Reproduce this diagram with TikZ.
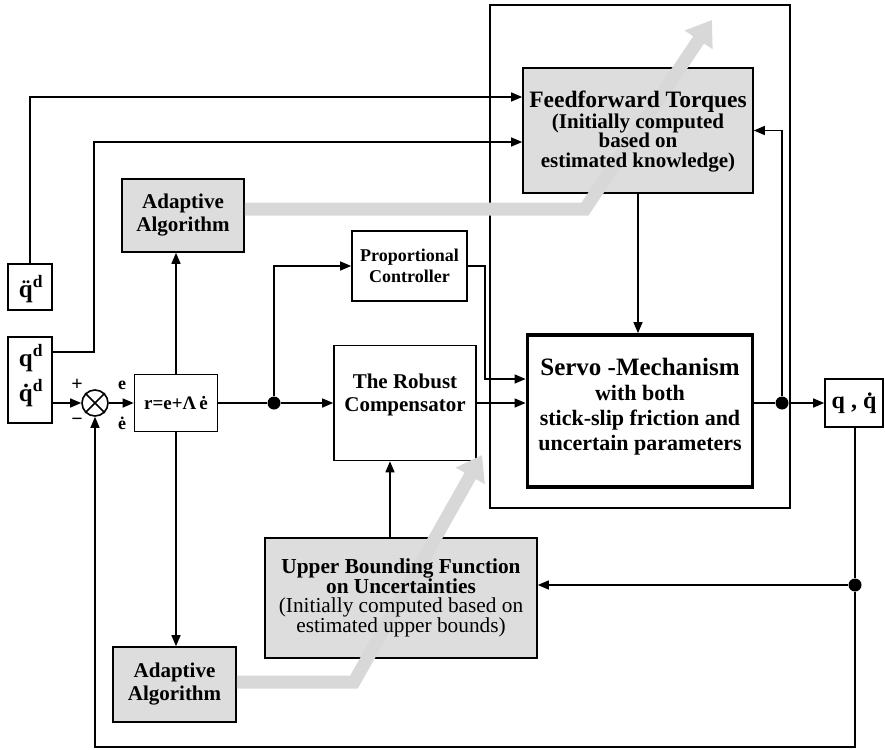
\documentclass[tikz,border=0pt]{standalone}
\usepackage{fontspec}
\setmainfont{Liberation Serif}
\usetikzlibrary{arrows.meta,calc}
\definecolor{boxgray}{RGB}{221,221,221}
\definecolor{bandgray}{RGB}{216,216,216}
\begin{document}
\begin{tikzpicture}[x=1pt,y=-1pt,
  box/.style={draw, line width=1.6pt, inner sep=0pt, fill=white},
  graybox/.style={box, fill=boxgray},
  txt/.style={align=center, inner sep=0pt, font=\bfseries},
  wire/.style={line width=1.4pt},
  arr/.style={wire, -{Triangle[length=11pt,width=9pt]}},
  jdot/.style={circle, fill=black, inner sep=0pt, minimum size=13pt},
  band/.style={line width=13pt, draw=bandgray, line join=miter, -{Triangle[length=24pt,width=32pt]}}]
\useasboundingbox (0,0) rectangle (885,749);
% boxes
\node[graybox, minimum width=230pt, minimum height=125pt] (ff) at (638,130.5) {};
\node[graybox, minimum width=122pt, minimum height=73pt] (ad1) at (183,215.5) {};
\node[graybox, minimum width=123pt, minimum height=75pt] (ad2) at (174.5,684.5) {};
\node[graybox, minimum width=272pt, minimum height=120pt] (ub) at (401,598) {};
\node[box, minimum width=115pt, minimum height=70pt] (prop) at (409.5,266) {};
\node[box, minimum width=142pt, minimum height=115pt] (rob) at (405,403) {};
\node[box, line width=3.8pt, minimum width=225pt, minimum height=152pt] (servo) at (640,411) {};
\node[box, minimum width=83pt, minimum height=57pt] (rb) at (176,403) {};
\node[box, minimum width=44pt, minimum height=46pt] (qdd) at (30,287) {};
\node[box, minimum width=44pt, minimum height=86pt] (qd) at (30,380) {};
\node[box, minimum width=58pt, minimum height=48pt] (qb) at (854,403) {};
\node[draw, line width=1.4pt, minimum width=300pt, minimum height=503pt, inner sep=0pt] (frame) at (640,256.5) {};
\node[circle, draw, line width=1.6pt, minimum size=26pt, inner sep=0pt, fill=white] (sum) at (95,403) {};
\draw[line width=1.6pt] (sum.north east) -- (sum.south west) (sum.north west) -- (sum.south east);
% adaptation bands
\draw[band] ([yshift=6.5pt]ad1.east) -- (585,209) -- (712,20);
\draw[band] ([yshift=2.5pt]ad2.east) -- (354,682) -- (482,455);
% texts
\node[txt, font=\bfseries\fontsize{21}{19.5}\selectfont] (fft) at ([yshift=-1pt]ff.center)
  {{\fontsize{23.5}{24}\selectfont Feedforward Torques}\\(Initially computed\\based on\\estimated knowledge)};
\node[txt, font=\bfseries\fontsize{21}{23}\selectfont] (ad1t) at (ad1) {Adaptive\\Algorithm};
\node[txt, font=\bfseries\fontsize{21}{23}\selectfont] (ad2t) at (ad2) {Adaptive\\Algorithm};
\node[txt, font=\bfseries\fontsize{18}{21}\selectfont] (propt) at (prop) {Proportional\\Controller};
\node[txt, font=\bfseries\fontsize{21}{23}\selectfont] (robt) at ([yshift=8pt]rob.center) {The Robust\\Compensator};
\node[txt, font=\bfseries\fontsize{22}{25}\selectfont] (servot) at ([yshift=4pt]servo.center)
  {{\fontsize{25}{26}\selectfont Servo -Mechanism}\\with both\\stick-slip friction and\\uncertain parameters};
\node[txt, font=\bfseries\fontsize{21.3}{19.5}\selectfont] (ubt) at (ub)
  {Upper Bounding Function\\on Uncertainties\\\textmd{(Initially computed based on}\\\textmd{estimated upper bounds)}};
\node[txt, font=\bfseries\fontsize{19}{20}\selectfont] (rbt) at (rb) {r=e+Λ\,\.{e}};
\node[txt, font=\bfseries\fontsize{24}{24}\selectfont] (qbt) at (qb) {q , \.{q}};
\node[txt, font=\bfseries\fontsize{25}{25}\selectfont, anchor=base] (qddt) at (31,297) {\"{q}\textsuperscript{d}};
\node[txt, font=\bfseries\fontsize{25}{25}\selectfont, anchor=base] (qdt1) at (31,366) {q\textsuperscript{d}};
\node[txt, font=\bfseries\fontsize{25}{25}\selectfont, anchor=base] (qdt2) at (31,401) {\.{q}\textsuperscript{d}};
\node[txt, font=\bfseries\fontsize{20}{20}\selectfont] (plus) at (77,385) {+};
\node[txt, font=\bfseries\fontsize{20}{20}\selectfont] (minus) at (77,422) {−};
\node[txt, font=\bfseries\fontsize{18}{18}\selectfont] (elab) at (122,385) {e};
\node[txt, font=\bfseries\fontsize{18}{18}\selectfont] (edlab) at (122,423) {\.{e}};
% junctions
\node[jdot] (J1) at (274,403) {};
\node[jdot] (J2) at (782,403) {};
\node[jdot] (J3) at (855,585) {};
% wires
\draw[arr] (qdd.north) |- ([yshift=33.5pt]ff.west);
\draw[arr] ([yshift=28pt]qd.east) -- ++(41,0) |- ([yshift=-11.5pt]ff.west);
\draw[arr] ([yshift=-23pt]qd.east) -- (sum.west);
\draw[arr] (sum.east) -- (rb.west);
\draw[wire] (rb.east) -- (J1);
\draw[arr] (J1) -- (rob.west);
\draw[arr] (J1) |- (prop.west);
\draw[arr] (prop.east) -- ++(17,0) |- ([yshift=32pt]servo.west);
\draw[arr] (rob.east) -- (rob.east -| servo.west);
\draw[wire] ([yshift=8pt]servo.east) -- (J2);
\draw[arr] (J2) -- (qb.west);
\draw[arr] (J2) |- (ff.east);
\draw[arr] (ff.south) -- (ff.south |- servo.north);
\draw[arr] (rb.north) -- (rb.north |- ad1.south);
\draw[arr] (rb.south) -- (rb.south |- ad2.north);
\draw[arr] ([xshift=-11pt]ub.north) -- ([xshift=-11pt]ub.north |- rob.south);
\draw[wire] (qb.south -| J3) -- (J3);
\draw[arr] (J3) -- (J3 -| ub.east);
\draw[arr] (J3) -- ++(0,162) -| (sum.south);
\end{tikzpicture}
\end{document}
